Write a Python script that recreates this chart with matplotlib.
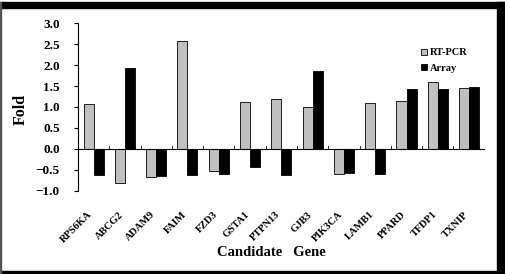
import numpy as np
import matplotlib
matplotlib.use('Agg')
import matplotlib.pyplot as plt
from matplotlib.patches import Rectangle

genes = ['RPS6KA', 'ABCG2', 'ADAM9', 'FAIM', 'FZD3', 'GSTA1', 'PTPN13',
         'GJB3', 'PIK3CA', 'LAMB1', 'PPARD', 'TFDP1', 'TXNIP']
rt_pcr = [1.08, -0.81, -0.66, 2.56, -0.52, 1.11, 1.19, 1.0, -0.6, 1.1, 1.14, 1.59, 1.46]
array = [-0.62, 1.93, -0.64, -0.61, -0.6, -0.42, -0.62, 1.85, -0.56, -0.6, 1.44, 1.42, 1.48]

plt.rcParams['font.family'] = ['Liberation Serif', 'DejaVu Serif']
plt.rcParams['font.weight'] = 'bold'

fig = plt.figure(figsize=(5.06, 2.74), dpi=100)
ax = fig.add_axes([0.154, 0.303, 0.804, 0.613])

x = np.arange(len(genes))
w = 0.32
ax.bar(x - w / 2, rt_pcr, w, color='#c0c0c0', edgecolor='black', linewidth=0.6, label='RT-PCR')
ax.bar(x + w / 2, array, w, color='black', edgecolor='black', linewidth=0.6, label='Array')

ax.set_xlim(-0.5, len(genes) - 0.5)
ax.set_ylim(-1.0, 3.0)
yt = np.arange(-1.0, 3.01, 0.5)
ax.set_yticks(yt)
ax.set_yticklabels([f'{v:.1f}'.replace('-', '\u2212') for v in yt],
                   fontsize=9.5, fontweight='bold')

for s in ['top', 'right', 'bottom']:
    ax.spines[s].set_visible(False)
ax.spines['left'].set_linewidth(0.8)
ax.axhline(0, color='black', linewidth=0.8)
ax.tick_params(axis='y', direction='out', length=3, width=0.8, pad=10)

# x ticks between categories on the zero line
ax.set_xticks([])
for b in np.arange(0.5, len(genes) - 0.4, 1.0):
    ax.plot([b, b], [0, 0.06], color='black', linewidth=0.6)

for i, g in enumerate(genes):
    ax.text(i + 0.02, -1.45, g, rotation=45, ha='right', va='top',
            fontsize=7.5, fontweight='bold')

fig.text(0.536, 0.077, 'Candidate   Gene', ha='center', va='center', fontsize=10.5, fontweight='bold')
fig.text(0.04, 0.6, 'Fold', rotation=90, ha='center', va='center', fontsize=11.5, fontweight='bold')

ax.legend(loc='upper left', bbox_to_anchor=(0.83, 0.88), frameon=False,
          prop={'size': 7.5, 'weight': 'bold'}, handlelength=0.55, handleheight=0.55,
          handletextpad=0.3, labelspacing=0.6, borderpad=0)

# figure border
fig.patches.append(Rectangle((0, 1 - 8 / 274), 1, 6 / 274, transform=fig.transFigure, color='black'))
fig.patches.append(Rectangle((497 / 506, 0), 9 / 506, 1 - 2 / 274, transform=fig.transFigure, color='black'))
fig.patches.append(Rectangle((0, 1 / 274), 1, 2 / 274, transform=fig.transFigure, color='black'))
fig.patches.append(Rectangle((0, 0), 1.5 / 506, 1 - 2 / 274, transform=fig.transFigure, color='#555555'))

fig.savefig('out.png', dpi=100)
